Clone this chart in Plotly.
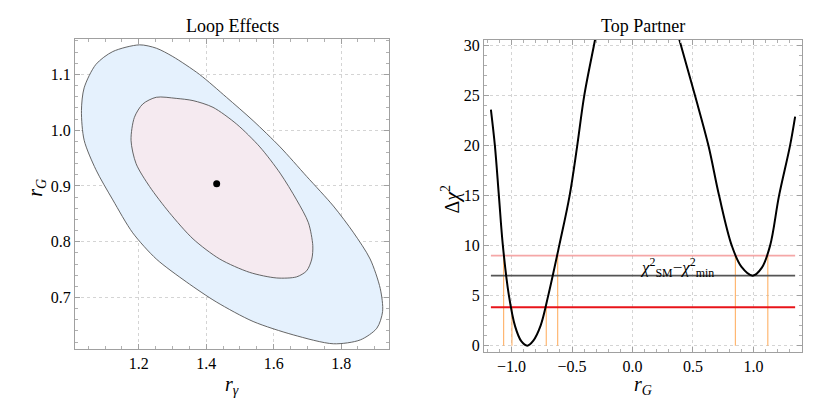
import plotly.graph_objects as go

# ---------------- Left panel: Loop Effects (contours) ----------------
outer_rgamma = [1.202, 1.252, 1.301, 1.380, 1.460, 1.539, 1.619, 1.698, 1.777, 1.837, 1.886, 1.916,
                1.923, 1.906, 1.857, 1.777, 1.658, 1.539, 1.430, 1.341, 1.252, 1.182, 1.123, 1.073,
                1.038, 1.030, 1.038, 1.073, 1.123, 1.202]
outer_rG = [1.153, 1.147, 1.132, 1.100, 1.059, 1.017, 0.970, 0.917, 0.864, 0.816, 0.769, 0.716,
            0.675, 0.645, 0.624, 0.617, 0.633, 0.657, 0.692, 0.728, 0.769, 0.816, 0.875, 0.929,
            0.982, 1.035, 1.076, 1.118, 1.141, 1.153]

inner_rgamma = [1.252, 1.311, 1.361, 1.420, 1.490, 1.559, 1.619, 1.668, 1.703, 1.716, 1.713, 1.698,
                1.668, 1.609, 1.529, 1.440, 1.361, 1.291, 1.232, 1.192, 1.177, 1.187, 1.212, 1.252]
inner_rG = [1.059, 1.057, 1.053, 1.041, 1.011, 0.970, 0.923, 0.875, 0.834, 0.793, 0.769, 0.748,
            0.737, 0.735, 0.745, 0.769, 0.805, 0.852, 0.899, 0.940, 0.982, 1.023, 1.047, 1.059]

best_rgamma = [1.431]
best_rG = [0.904]

# ---------------- Right panel: Top Partner ----------------
left_rG = [-1.171, -1.138, -1.105, -1.072, -1.022, -0.97, -0.92, -0.87, -0.82, -0.76, -0.697,
           -0.606, -0.520, -0.457, -0.399, -0.319, -0.303]
left_chi2 = [23.6, 20.0, 15.0, 10.0, 5.0, 1.9, 0.45, 0.0, 0.5, 2.0, 5.0,
             10.0, 15.0, 20.0, 25.0, 30.0, 31.0]
right_rG = [0.378, 0.401, 0.517, 0.628, 0.716, 0.821, 0.90, 0.994, 1.07, 1.138, 1.212, 1.303, 1.345]
right_chi2 = [31.0, 30.0, 25.0, 20.0, 15.0, 10.0, 7.9, 7.0, 7.8, 10.0, 15.0, 20.0, 22.9]

levels = [9.0, 7.0, 3.84]
level_colors = ["rgba(240,120,120,0.65)", "#555555", "#E8141A"]
level_widths = [1.6, 1.8, 1.8]
level_range = [-1.171, 1.345]

cross_rG = [-1.066, -0.997, -0.713, -0.619, 0.851, 1.119]
cross_top = [9.0, 3.84, 3.84, 9.0, 9.0, 9.0]

fig = go.Figure()

# left panel
fig.add_trace(go.Scatter(x=outer_rgamma, y=outer_rG, mode="lines", fill="toself",
                         fillcolor="#E5F1FD", line=dict(color="#555555", width=0.9),
                         line_shape="spline", line_smoothing=0.8,
                         xaxis="x", yaxis="y", showlegend=False))
fig.add_trace(go.Scatter(x=inner_rgamma, y=inner_rG, mode="lines", fill="toself",
                         fillcolor="#F5EAF0", line=dict(color="#555555", width=0.9),
                         line_shape="spline", line_smoothing=0.8,
                         xaxis="x", yaxis="y", showlegend=False))
fig.add_trace(go.Scatter(x=best_rgamma, y=best_rG, mode="markers",
                         marker=dict(color="black", size=7), xaxis="x", yaxis="y", showlegend=False))

# right panel: vertical orange lines
for xc, yt in zip(cross_rG, cross_top):
    fig.add_trace(go.Scatter(x=[xc, xc], y=[0, yt], mode="lines",
                             line=dict(color="rgba(255,170,90,0.85)", width=1.2),
                             xaxis="x2", yaxis="y2", showlegend=False))
# horizontal levels
for lv, c, w in zip(levels, level_colors, level_widths):
    fig.add_trace(go.Scatter(x=level_range, y=[lv, lv], mode="lines",
                             line=dict(color=c, width=w), xaxis="x2", yaxis="y2", showlegend=False))
# chi2 curve
fig.add_trace(go.Scatter(x=left_rG, y=left_chi2, mode="lines", line_shape="spline",
                         line=dict(color="black", width=2), xaxis="x2", yaxis="y2", showlegend=False))
fig.add_trace(go.Scatter(x=right_rG, y=right_chi2, mode="lines", line_shape="spline",
                         line=dict(color="black", width=2), xaxis="x2", yaxis="y2", showlegend=False))

SERIF = "Liberation Serif, Times New Roman, serif"
font = dict(family=SERIF, size=16, color="black")

common = dict(showline=True, linecolor="#A0A0A0", linewidth=1, mirror="ticks",
              ticks="inside", ticklen=5, tickcolor="#A0A0A0",
              showgrid=True, gridcolor="#D4D4D4", griddash="3px,3px", gridwidth=1,
              zeroline=False, tickfont=font)

fig.update_layout(
    width=830, height=413, margin=dict(l=0, r=0, t=0, b=0), autosize=False,
    paper_bgcolor="white", plot_bgcolor="white", font=font,
    xaxis=dict(domain=[0.0904, 0.4687], range=[1.011, 1.942], tickvals=[1.2, 1.4, 1.6, 1.8],
               ticktext=["1.2", "1.4", "1.6", "1.8"],
               minor=dict(dtick=0.05, tick0=1.0, ticks="inside", ticklen=3, tickcolor="#B0B0B0",
                          showgrid=False),
               anchor="y", **common),
    yaxis=dict(domain=[0.150, 0.910], range=[0.608, 1.164], tickvals=[0.7, 0.8, 0.9, 1.0, 1.1],
               ticktext=["0.7", "0.8", "0.9", "1.0", "1.1"],
               minor=dict(dtick=0.02, tick0=0.6, ticks="inside", ticklen=3, tickcolor="#B0B0B0",
                          showgrid=False),
               anchor="x", **common),
    xaxis2=dict(domain=[0.583, 0.966], range=[-1.229, 1.40], tickvals=[-1.0, -0.5, 0.0, 0.5, 1.0],
                ticktext=["\u22121.0", "\u22120.5", "0.0", "0.5", "1.0"],
                minor=dict(dtick=0.1, tick0=0.0, ticks="inside", ticklen=3, tickcolor="#B0B0B0",
                           showgrid=False),
                anchor="y2", **common),
    yaxis2=dict(domain=[0.143, 0.908], range=[-0.6, 30.6], tickvals=[0, 5, 10, 15, 20, 25, 30],
                ticktext=["0", "5", "10", "15", "20", "25", "30"],
                minor=dict(dtick=1, tick0=0, ticks="inside", ticklen=3, tickcolor="#B0B0B0",
                           showgrid=False),
                anchor="x2", **common),
)

tfont = dict(family=SERIF, size=18, color="black")
afont = dict(family=SERIF, size=20, color="black")
annots = [
    dict(text="Loop Effects", x=232, y=413 - 24, font=tfont),
    dict(text="Top Partner", x=643, y=413 - 24, font=tfont),
    dict(text="<i>r</i><sub><i>\u03b3</i></sub>", x=232, y=413 - 388, font=afont),
    dict(text="<i>r</i><sub><i>G</i></sub>", x=643, y=413 - 388, font=afont),
    dict(text="<i>r</i><sub><i>G</i></sub>", x=37, y=413 - 188, font=afont, textangle=-90),
    dict(text="\u0394<i>\u03c7</i><sup>2</sup>", x=451, y=413 - 200, font=afont, textangle=-90),
]
for a in annots:
    fig.add_annotation(xref="paper", yref="paper", x=a["x"] / 830, y=a["y"] / 413,
                       text=a["text"], showarrow=False, font=a["font"],
                       textangle=a.get("textangle", 0), xanchor="center", yanchor="middle")

lfont = dict(family=SERIF, size=17, color="black")
fig.add_annotation(xref="x2", yref="y2", x=0.044, y=7.0, yanchor="bottom", xanchor="left",
                   text="<i>\u03c7</i><sup>2</sup><sub>SM</sub>\u2212<i>\u03c7</i><sup>2</sup><sub>min</sub>",
                   showarrow=False, yshift=-6, font=lfont)

fig.write_html("out.html", config={"displayModeBar": False},
               post_script="document.body.style.margin='0';")
